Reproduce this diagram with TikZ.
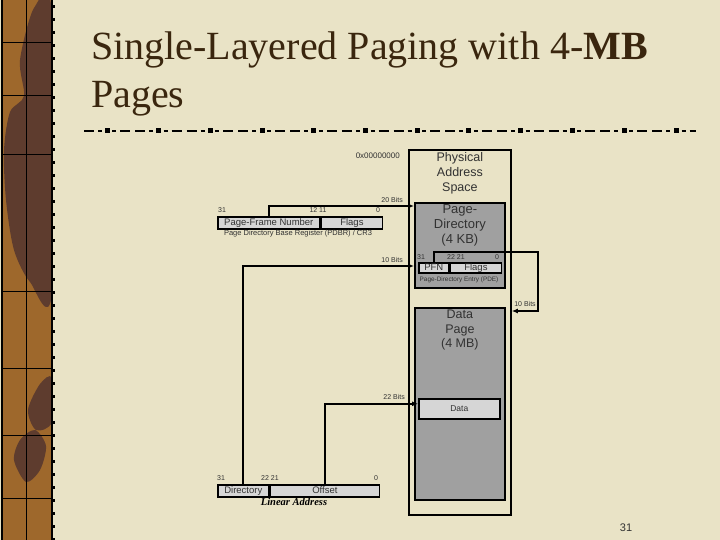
\documentclass[tikz,border=0pt]{standalone}
\usepackage{fontspec}
\setmainfont{Liberation Serif}
\setsansfont{Liberation Sans}
\usetikzlibrary{arrows.meta, positioning}

\definecolor{paper}{RGB}{233,227,198}
\definecolor{strip}{RGB}{158,104,44}
\definecolor{blot}{RGB}{94,60,46}
\definecolor{boxgray}{RGB}{160,160,160}
\definecolor{reggray}{RGB}{214,214,214}
\definecolor{inkgray}{RGB}{50,50,50}
\definecolor{titlebrown}{RGB}{58,38,14}

\begin{document}
\begin{tikzpicture}[x=1pt, y=-1pt, >={Latex[length=6pt,width=5pt]},
  every node/.style={font=\sffamily, inner sep=0pt},
  physbox/.style={draw, line width=1.8pt, anchor=north west},
  graybox/.style={draw, line width=1.8pt, fill=boxgray, anchor=north west},
  regbox/.style={draw, line width=1.6pt, fill=reggray, anchor=north west,
    minimum height=12pt, text height=6.8pt, text depth=1.8pt,
    font=\sffamily\fontsize{9.5}{10}\selectfont, text=inkgray},
  boxtext/.style={align=center, anchor=north, text=inkgray},
  bits/.style={font=\sffamily\fontsize{7}{8}\selectfont, text=inkgray},
  caption/.style={font=\sffamily\fontsize{7.5}{8}\selectfont, text=inkgray},
  link/.style={->, line width=2pt}]

% Slide background
\useasboundingbox (0,0) rectangle (720,540);
\fill[paper] (0,0) rectangle (720,540);
\fill[strip] (2,0) rectangle (52,540);
\begin{scope}
  \clip (2,0) rectangle (52,540);
  \fill[blot] plot[smooth cycle] coordinates {(34,8) (52,14) (52,292) (30,282) (14,250) (6,200) (4,150) (10,112) (24,96) (20,60)};
  \fill[blot] plot[smooth cycle] coordinates {(40,384) (52,378) (52,422) (36,430) (28,410)};
  \fill[blot] plot[smooth cycle] coordinates {(20,440) (35,430) (46,446) (40,470) (26,482) (14,460)};
\end{scope}
\draw[line width=0.6pt] (26,0) -- (26,540);
\foreach \yy in {42,95,154,291,368,435,498}
  \draw[line width=0.6pt] (2,\yy) -- (52,\yy);
\draw[line width=1.6pt] (2,0) -- (2,540) (52,0) -- (52,540);
\foreach \k in {0,...,41} {
  \fill (52,{\k*13+5}) rectangle (54.5,{\k*13+8});
}

% Title and rule
\node[anchor=base west, font=\rmfamily\fontsize{40}{48}\selectfont, text=titlebrown] (title) at (91,60) {Single-Layered Paging with 4-\textbf{MB}};
\node[anchor=base west, font=\rmfamily\fontsize{40}{48}\selectfont, text=titlebrown] (title2) at (91,108) {Pages};
\draw[line width=1.2pt] (84,131) -- (94,131) (98,131) -- (102,131);
\foreach \k in {0,...,10} {
  \pgfmathsetmacro{\cx}{107+51.7*\k}
  \fill (\cx-2.5,128.5) rectangle (\cx+2.5,133.5);
  \draw[line width=1.2pt] (\cx+5,131) -- (\cx+9,131) (\cx+13,131) -- (\cx+23,131)
    (\cx+28,131) -- (\cx+38,131) (\cx+42,131) -- (\cx+46,131);
}
\fill (674,128.5) rectangle (679,133.5);
\draw[line width=1.2pt] (681.5,131) -- (685.5,131) (689.5,131) -- (696,131);

% Physical memory
\node[bits, font=\sffamily\fontsize{8}{9}\selectfont, anchor=east] (zero) at (400,156) {0x00000000};
\node[physbox, minimum width=102pt, minimum height=365pt] (phys) at (408,149) {};
\node[boxtext, font=\sffamily\fontsize{12.5}{15}\selectfont] (physlbl) at ([yshift=-3pt]phys.north) {Physical\\Address\\Space};

\node[graybox, minimum width=90pt, minimum height=85pt] (pagedir) at (414,202) {};
\node[boxtext, font=\sffamily\fontsize{13}{15}\selectfont] (pagedirlbl) at ([yshift=-2pt]pagedir.north) {Page-\\Directory\\(4 KB)};

\node[regbox, minimum width=30pt, minimum height=10pt] (pdepfn) at (418,262) {PFN};
\node[regbox, minimum width=51pt, minimum height=10pt] (pdeflags) at (pdepfn.north east) {Flags};
\node[bits] (pde31) at (421,257) {31};
\node[bits] (pde22) at (456,257) {22 21};
\node[bits] (pde0) at (497,257) {0};
\node[caption, font=\sffamily\fontsize{6.4}{7}\selectfont] (pdecap) at (459,280) {Page-Directory Entry (PDE)};

\node[graybox, minimum width=90pt, minimum height=192pt] (datapage) at (414,307) {};
\node[boxtext, font=\sffamily\fontsize{12.5}{14.5}\selectfont] (datapagelbl) at ([yshift=-3pt]datapage.north) {Data\\Page\\(4 MB)};
\node[regbox, minimum width=81pt, minimum height=20pt, font=\sffamily\fontsize{8.5}{9}\selectfont] (data) at (418,398) {Data};

% Page Directory Base Register
\node[regbox, minimum width=102pt] (pfnum) at (217,216) {Page-Frame Number};
\node[regbox, minimum width=61pt] (pdbrflags) at (pfnum.north east) {Flags};
\node[bits] (pdbr31) at (222,210) {31};
\node[bits] (pdbr12) at (318,210) {12 11};
\node[bits] (pdbr0) at (378,210) {0};
\node[caption] (pdbrcap) at (298,234) {Page Directory Base Register (PDBR) / CR3};

% Linear address
\node[regbox, minimum width=51pt] (dirfield) at (217,484) {Directory};
\node[regbox, minimum width=109pt] (offset) at (dirfield.north east) {Offset};
\node[bits] (lin31) at (221,478) {31};
\node[bits] (lin22) at (270,478) {22 21};
\node[bits] (lin0) at (376,478) {0};
\node[font=\rmfamily\bfseries\itshape\fontsize{10.5}{11}\selectfont] (lincap) at (294,502) {Linear Address};

% Connectors
\draw[link] (pfnum.north) |- ([yshift=-4pt]pagedir.north west);
\node[bits, anchor=south east] (bits20) at (403,203) {20 Bits};
\draw[link] (dirfield.north) |- ([yshift=-64pt]pagedir.north west);
\node[bits, anchor=south east] (bits10a) at (403,263) {10 Bits};
\draw[link] (offset.north) |- ([yshift=5pt]data.west);
\node[bits, anchor=south east] (bits22) at (405,400) {22 Bits};
\coordinate (loop) at (538,311);
\draw[link] (pdepfn.north) -- ++(0,-10) -| (loop) -- (loop -| phys.east);
\node[bits] (bits10b) at (525,304) {10 Bits};

\node[font=\sffamily\fontsize{11}{12}\selectfont, text=inkgray] (slideno) at (626,528) {31};

\end{tikzpicture}
\end{document}
